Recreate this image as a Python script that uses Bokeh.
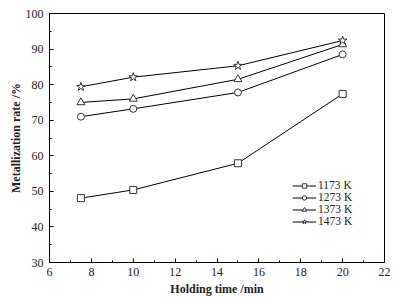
from bokeh.plotting import figure
from bokeh.models import Legend, LegendItem, SingleIntervalTicker
from bokeh.embed import file_html
from bokeh.resources import INLINE

time = [7.5, 10, 15, 20]
labels = ["1173 K", "1273 K", "1373 K", "1473 K"]
r1173 = [48.1, 50.4, 57.9, 77.4]
r1273 = [71.0, 73.2, 77.8, 88.5]
r1373 = [75.0, 76.0, 81.5, 91.3]
r1473 = [79.4, 82.1, 85.3, 92.4]
series = [r1173, r1273, r1373, r1473]
markers = ["square", "circle", "triangle", "star"]
sizes = [7, 7, 8, 9]

FONT = "Liberation Serif"

p = figure(width=400, height=298, output_backend="svg", toolbar_location=None,
           x_range=(6, 22), y_range=(30, 100),
           min_border_left=49, min_border_right=16, min_border_top=13, min_border_bottom=36)
p.grid.visible = False
p.outline_line_color = "black"
p.outline_line_width = 1
p.background_fill_color = "white"
p.border_fill_color = "white"

items = []
for vals, lab, mk, sz in zip(series, labels, markers, sizes):
    l = p.line(time, vals, line_color="black", line_width=1)
    s = p.scatter(time, vals, marker=mk, size=sz, fill_color="white", line_color="#333333", line_width=1)
    items.append(LegendItem(label=lab, renderers=[l, s]))

legend = Legend(items=items, location=(243, 35), border_line_color=None,
                background_fill_alpha=0, label_text_font=FONT, label_text_font_size="11.5px",
                label_text_color="#222222",
                glyph_width=24, glyph_height=11, spacing=0, padding=1, label_standoff=2,
                label_height=11)
p.add_layout(legend, "center")

p.xaxis.ticker = SingleIntervalTicker(interval=2, num_minor_ticks=2)
p.yaxis.ticker = SingleIntervalTicker(interval=10, num_minor_ticks=2)
for ax in (p.xaxis, p.yaxis):
    ax.major_tick_in = 4
    ax.major_tick_out = 0
    ax.minor_tick_in = 2
    ax.minor_tick_out = 0
    ax.axis_line_color = "black"
    ax.major_tick_line_color = "black"
    ax.minor_tick_line_color = "black"
    ax.major_label_text_font = FONT
    ax.major_label_text_font_size = "12px"
    ax.major_label_text_color = "#222222"
    ax.axis_label_text_font = FONT
    ax.axis_label_text_font_size = "12px"
    ax.axis_label_text_font_style = "bold"
    ax.axis_label_text_color = "#222222"
p.xaxis.axis_label = "Holding time /min"
p.yaxis.axis_label = "Metallization rate /%"
p.xaxis.major_label_standoff = 5
p.yaxis.major_label_standoff = 6
p.xaxis.axis_label_standoff = 3
p.yaxis.axis_label_standoff = 0

open("out.html", "w").write(file_html(p, INLINE))
